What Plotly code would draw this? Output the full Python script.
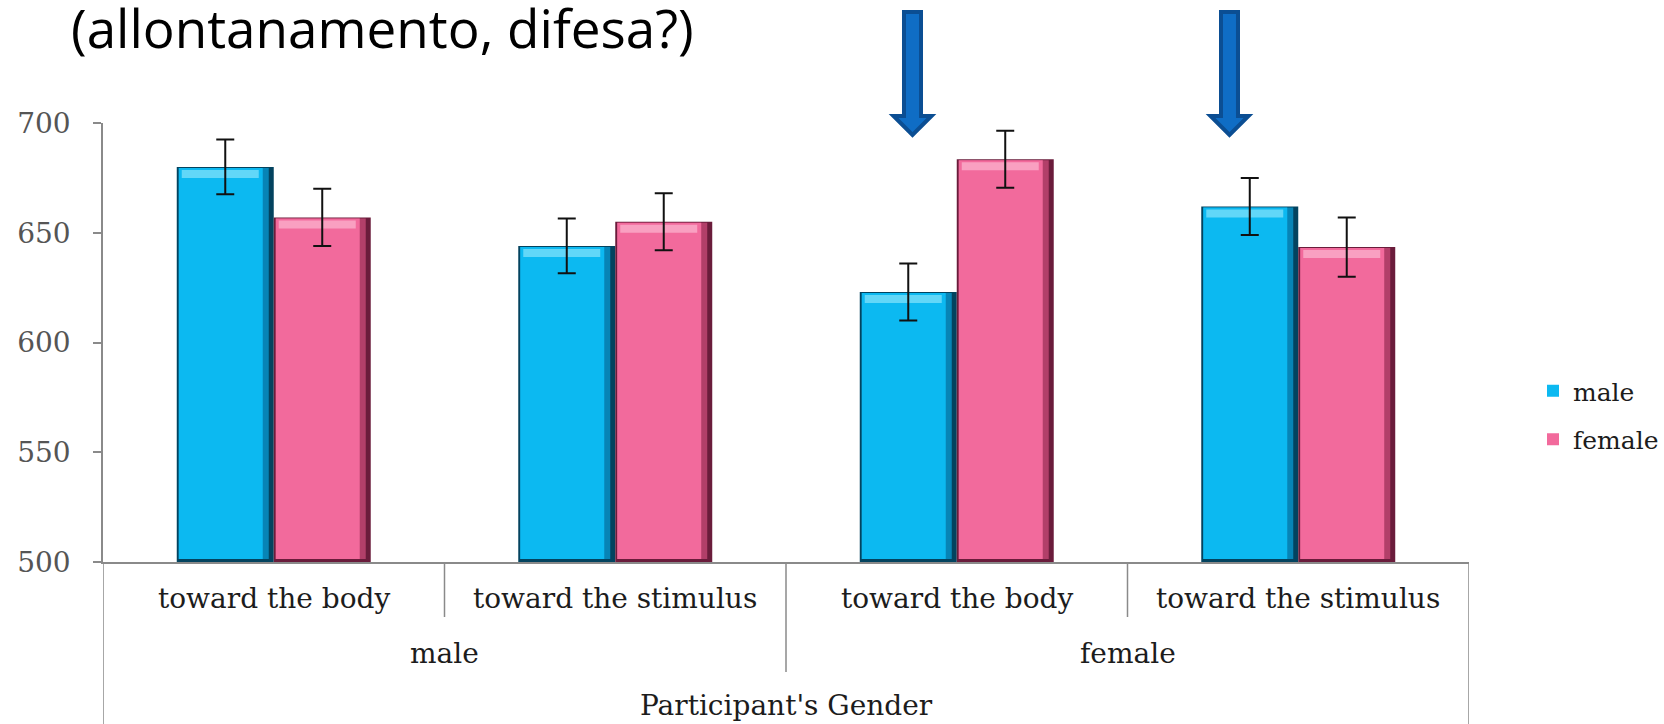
import plotly.graph_objects as go

# ---- data -------------------------------------------------------------
participant_gender = ["male", "female"]
directions = ["toward the body", "toward the stimulus"]
series_names = ["male", "female"]
male_rt = [680, 644, 623, 662]
female_rt = [657, 655, 683.5, 643.5]
male_err = [12.5, 12.5, 13, 13]
female_err = [13, 13, 13, 13.5]
y_ticks = [500, 550, 600, 650, 700]
axis_title = "Participant's Gender"
slide_text = "(allontanamento, difesa?)"

# ---- geometry ---------------------------------------------------------
W, H = 1664, 724
ML, MR, MT, MB = 103, 195, 123, 162
PW, PH = W - ML - MR, H - MT - MB
Y0, Y1 = y_ticks[0], y_ticks[-1]

categories = [(g, d) for g in participant_gender for d in directions]
idx = list(range(len(categories)))
dx = (len(categories)) / PW          # x units per pixel
dy = (Y1 - Y0) / PH                  # y units per pixel
BW = 0.284                           # bar width in category units


def paper(px, py):
    return (px - ML) / PW, (H - MB - py) / PH


SERIF = "DejaVu Serif"
GRID = "#8a8a8a"

styles = {
    "male": dict(dark="#03435F", mid="#0784B6", fill="#0CB9F1", light="#62D7F8"),
    "female": dict(dark="#6A1C3B", mid="#B23F69", fill="#F26A9C", light="#F9A0C1"),
}


def body(vals, off, l, r, b, t, color, name, legend=False):
    base = [Y0 + b * dy for _ in vals]
    height = [v - t * dy - bb for v, bb in zip(vals, base)]
    return go.Bar(
        x=idx, y=height, base=base, offset=off + l * dx, width=BW - (l + r) * dx,
        marker=dict(color=color, line=dict(width=0)), name=name,
        showlegend=legend, legendgroup=name, hoverinfo="skip",
    )


def band(vals, off, l, r, t0, t1, color, name):
    base = [v - t1 * dy for v in vals]
    height = [(t1 - t0) * dy for _ in vals]
    return go.Bar(
        x=idx, y=height, base=base, offset=off + l * dx, width=BW - (l + r) * dx,
        marker=dict(color=color, line=dict(width=0)), name=name,
        showlegend=False, legendgroup=name, hoverinfo="skip",
    )


fig = go.Figure()
series = [("male", male_rt, male_err, -BW), ("female", female_rt, female_err, 0.0)]

for name, vals, err, off in series:
    s = styles[name]
    fig.add_trace(body(vals, off, 0, 0, 0, 0, s["dark"], name))
    fig.add_trace(body(vals, off, 2, 5, 3, 1, s["mid"], name))
    fig.add_trace(body(vals, off, 2, 11, 3, 1, s["fill"], name, legend=True))
    fig.add_trace(band(vals, off, 5, 15, 3, 11, s["light"], name))

# error bars drawn last so they sit above every bar layer
for name, vals, err, off in series:
    fig.add_trace(go.Bar(
        x=idx, y=vals, offset=off, width=BW, name=name,
        marker=dict(color="rgba(0,0,0,0)", line=dict(width=0)),
        error_y=dict(type="data", array=err, visible=True, color="#111111",
                     thickness=2, width=9),
        showlegend=False, legendgroup=name, hoverinfo="skip",
    ))

# ---- category table under the plot ------------------------------------
bottom = -MB / PH
shapes = [
    dict(type="line", xref="x", yref="paper", x0=-0.5, x1=-0.5, y0=0, y1=bottom,
         line=dict(color=GRID, width=1.5)),
    dict(type="line", xref="x", yref="paper", x0=len(idx) - 0.5, x1=len(idx) - 0.5,
         y0=0, y1=bottom, line=dict(color=GRID, width=1.5)),
]
for i in idx[:-1]:
    outer_change = categories[i][0] != categories[i + 1][0]
    depth = (672 if outer_change else 617) - (H - MB)
    shapes.append(dict(type="line", xref="x", yref="paper", x0=i + 0.5, x1=i + 0.5,
                       y0=0, y1=-depth / PH, line=dict(color=GRID, width=1.5)))


# block arrows
def arrow_path(cx):
    pts = [(cx - 8.5, 12), (cx + 8.5, 12), (cx + 8.5, 116), (cx + 19, 116),
           (cx, 135), (cx - 19, 116), (cx - 8.5, 116)]
    conv = [paper(x, y) for x, y in pts]
    return "M" + " L".join(f"{x:.5f},{y:.5f}" for x, y in conv) + " Z"


for cx in (912.5, 1229.5):
    shapes.append(dict(type="path", xref="paper", yref="paper", path=arrow_path(cx),
                       fillcolor="#0F6DC5", line=dict(color="#0B4E93", width=4)))

annotations = []
label_font = dict(family=SERIF, size=28, color="#1c1c1c")
for i, (g, d) in enumerate(categories):
    annotations.append(dict(x=i, y=paper(0, 598.5)[1], xref="x", yref="paper",
                            text=d, showarrow=False, xanchor="center",
                            yanchor="middle", font=label_font))
for g in participant_gender:
    members = [i for i, c in enumerate(categories) if c[0] == g]
    annotations.append(dict(x=sum(members) / len(members), y=paper(0, 653.5)[1],
                            xref="x", yref="paper", text=g, showarrow=False,
                            xanchor="center", yanchor="middle", font=label_font))
annotations.append(dict(x=(idx[0] + idx[-1]) / 2, y=paper(0, 705.5)[1], xref="x",
                        yref="paper", text=axis_title, showarrow=False,
                        xanchor="center", yanchor="middle", font=label_font))
tx, ty = paper(69, -11)
annotations.append(dict(x=tx, y=ty, xref="paper", yref="paper", text=slide_text,
                        showarrow=False, xanchor="left", yanchor="top",
                        font=dict(family="Open Sans", size=53, color="#000000")))

lx, ly = paper(1533, 415)
fig.update_layout(
    width=W, height=H,
    margin=dict(l=ML, r=MR, t=MT, b=MB, pad=0, autoexpand=False),
    paper_bgcolor="white", plot_bgcolor="white",
    font=dict(family=SERIF),
    barmode="overlay",
    showlegend=True,
    legend=dict(x=lx, y=ly, xanchor="left", yanchor="middle",
                font=dict(family=SERIF, size=25, color="#1c1c1c"),
                bgcolor="rgba(0,0,0,0)", tracegroupgap=13, traceorder="grouped"),
    xaxis=dict(range=[-0.5, len(idx) - 0.5], showticklabels=False, showgrid=False,
               zeroline=False, showline=True, linecolor=GRID, linewidth=1.5,
               ticks="", fixedrange=True, automargin=False),
    yaxis=dict(range=[Y0, Y1], tickvals=y_ticks, showgrid=False, zeroline=False,
               showline=True, linecolor=GRID, linewidth=1.5, ticks="outside",
               ticklen=8, tickwidth=1.5, tickcolor=GRID, ticklabelstandoff=17,
               tickfont=dict(family=SERIF, size=28, color="#555555"),
               fixedrange=True, automargin=False),
    shapes=shapes,
    annotations=annotations,
)

fig.write_html("out.html")
